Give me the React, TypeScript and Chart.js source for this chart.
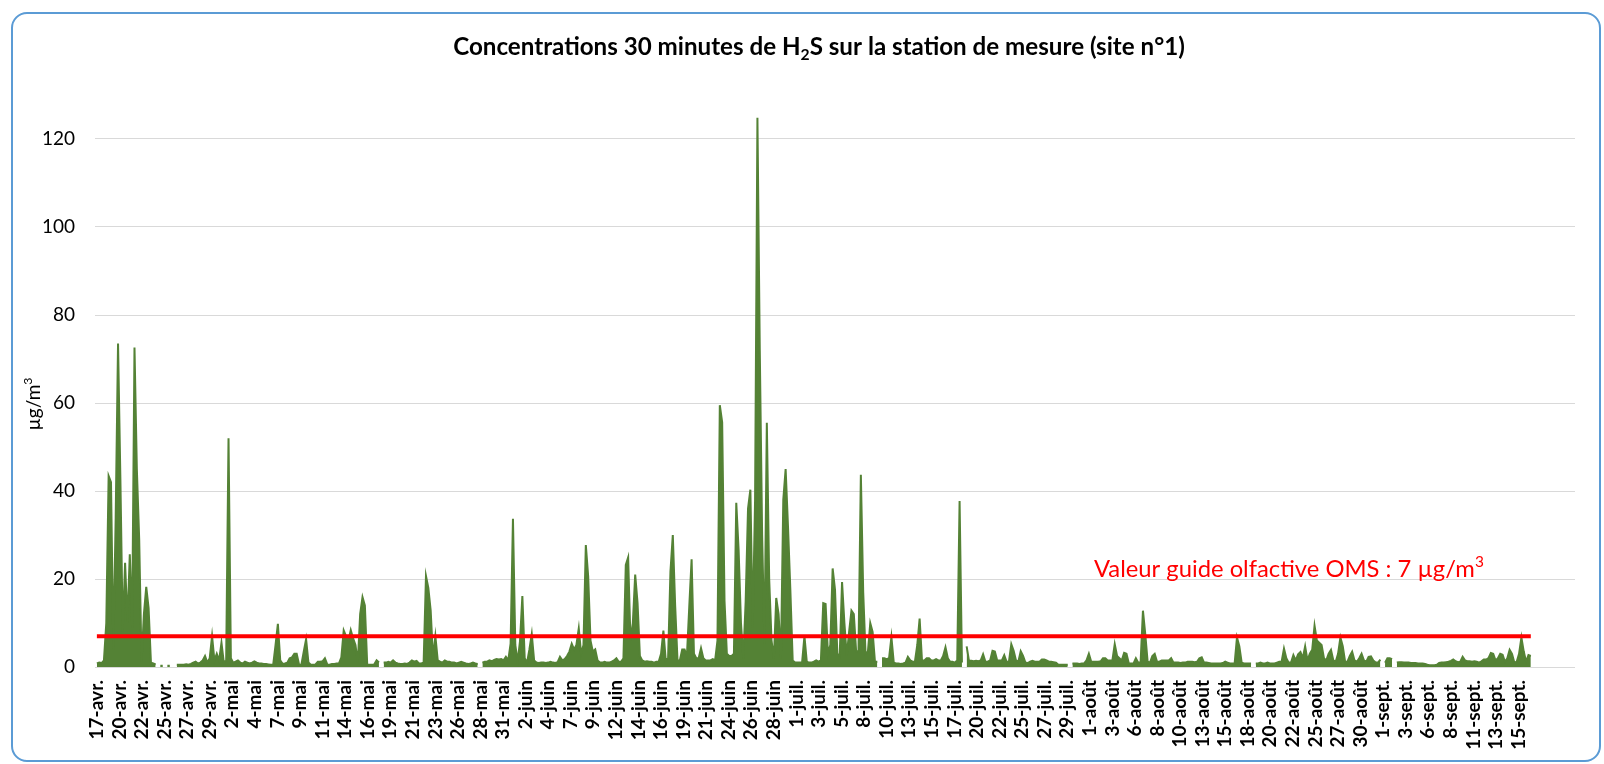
import React, { useEffect, useRef } from 'react';
import { Chart, registerables } from 'chart.js';

Chart.register(...registerables);

// ---- Data (30-min H2S concentrations, read at 6-hour resolution, µg/m³) ----
const samplesPerDay = 4;
const daysPerLabel = 2.4;
const threshold = 7;

const tickLabels = [
  '17-avr.', '20-avr.', '22-avr.', '25-avr.', '27-avr.', '29-avr.', '2-mai', '4-mai', '7-mai', '9-mai',
  '11-mai', '14-mai', '16-mai', '19-mai', '21-mai', '23-mai', '26-mai', '28-mai', '31-mai', '2-juin',
  '4-juin', '7-juin', '9-juin', '12-juin', '14-juin', '16-juin', '19-juin', '21-juin', '24-juin', '26-juin',
  '28-juin', '1-juil.', '3-juil.', '5-juil.', '8-juil.', '10-juil.', '13-juil.', '15-juil.', '17-juil.', '20-juil.',
  '22-juil.', '25-juil.', '27-juil.', '29-juil.', '1-août', '3-août', '6-août', '8-août', '10-août', '13-août',
  '15-août', '18-août', '20-août', '22-août', '25-août', '27-août', '30-août', '1-sept.', '3-sept.', '6-sept.',
  '8-sept.', '11-sept.', '13-sept.', '15-sept.',
];

const yTicks = [0, 20, 40, 60, 80, 100, 120];

const avril = [
  0.8, 1.0, 0.9, 1.5, 10, 43.4, 42, 4, 34, 73.5,
  42.7, 8, 23.7, 10, 25.6, 9, 72.6, 45, 29, 1.2,
  12, 18.2, 13.4, 1.0, 0.8, 0.6, null, 0.3, 0.3, null,
  0.3, 0.3, null, null, 0.5, 0.5, 0.5, 0.5, 0.6, 0.5,
  0.7, 1.0, 1.2, 0.8, 1.0, 1.5, 2.5, 1.0, 2.0, 7.0,
  1.5, 3.0, 1.5,
];

const mai = [
  5.5, 1.0, 1.5, 52, 2.0, 1.0, 1.2,
  1.5, 1.0, 0.8, 1.2, 1.0, 0.8, 1.0, 1.3, 1.0, 0.8,
  0.8, 0.7, 0.7, 0.6, 0.5, 0.5, 5, 9.8, 1.5, 0.7,
  0.8, 1.0, 2.0, 2.2, 3.0, 3.0, 0.6, 0.5, 3.5, 6.3,
  1.0, 0.5, 0.5, 0.6, 1.2, 1.2, 1.3, 2.0, 0.6, 0.5,
  0.7, 0.7, 0.8, 0.8, 2.2, 8.3, 7, 6, 8.4, 6.5,
  5, 1.0, 12, 15.9, 14, 0.6, 0.5, 0.5, 0.6, 1.5,
  1.0, null, 1.0, 1.0, 1.2, 1.0, 1.5, 1.0, 0.8, 0.7,
  0.7, 0.8, 0.7, 1.0, 1.5, 1.2, 1.4, 0.8, 0.8, 1.0,
  20.7, 18, 12.8, 2, 7, 1.5, 1.2, 1.0, 1.5, 1.2,
  1.2, 1.0, 1.0, 0.8, 1.0, 1.2, 1.0, 0.8, 0.7, 0.8,
  1.0, 0.8, 0.7, null, 1.0, 1.2, 1.2, 1.5, 1.3, 1.6,
  1.8, 1.7, 1.8, 1.5, 2.3, 1.5, 5.3,
];

const juin = [
  33.7, 5, 1.2,
  5.9, 16.1, 2.0, 1.0, 4.0, 7.5, 1.5, 1.0, 0.9, 1.0,
  1.0, 0.9, 1.0, 1.2, 1.0, 0.9, 1.1, 2.3, 1.5, 1.8,
  2.5, 3.5, 5.3, 4.0, 5.0, 8.8, 3.0, 5.0, 27.7, 20.6,
  6.0, 3.5, 4.0, 1.5, 1.0, 1.0, 1.2, 1.0, 1.0, 1.2,
  1.5, 2.0, 1.2, 1.2, 2.0, 23.2, 24.9, 6.0, 10, 21,
  14.6, 2.5, 1.5, 1.2, 1.3, 1.2, 1.2, 1.0, 1.2, 1.2,
  3.0, 8.3, 1.5, 2.0, 21.7, 30, 14, 1.5, 1.5, 4.0,
  4.0, 2.5, 13.7, 24.5, 3.0, 2.0, 2.0, 4.3, 2.0, 1.5,
  1.5, 1.5, 1.8, 1.5, 6, 59.5, 55.6, 15, 3.0, 2.5,
  2.5, 3.0, 37.3, 26.6, 10, 2.0, 15, 36, 40.3, 9,
  38, 124.8, 72, 30, 5, 55.5, 20, 6, 2, 15.7,
  12, 2, 38, 45, 32, 17.6, 1.5,
];

const juillet = [
  1.0, 1.0, 1.0,
  1.0, 7.0, 1.2, 1.0, 1.0, 1.2, 1.5, 1.2, 1.5, 14.5,
  14.3, 3.0, 5, 22.4, 17.6, 3.0, 2.5, 19.3, 10, 2.5,
  8, 12.8, 12, 3.5, 3.7, 43.7, 17, 3, 3.5, 10,
  8, 1.2, 1.2, null, 2.0, 2.0, 1.8, 2.0, 6.8, 1.0,
  0.8, 0.8, 0.7, 0.8, 1.0, 2.3, 1.5, 1.2, 1.2, 5,
  11, 1.5, 1.5, 2.0, 2.0, 1.5, 1.5, 1.8, 1.5, 1.5,
  2.5, 4.5, 2.0, 1.2, 1.2, 1.0, 1.5, 37.7, 1.0, null,
  4.7, 1.4, 1.4, 1.3, 1.4, 1.3, 1.5, 2.9, 1.2, 1.2,
  1.5, 3.7, 3.5, 1.5, 1.5, 1.5, 2.7, 1.2, 1.2, 5.2,
  3.7, 1.5, 1.2, 3.6, 2.5, 1.0, 0.9, 1.2, 1.4, 1.2,
  1.2, 1.2, 1.7, 1.7, 1.5, 1.2, 1.2, 1.1, 1.0, 0.5,
  0.5, 0.5, 0.5, 0.5, null, 0.8, 0.8, 0.8, 0.7, 0.8,
  0.8,
];

const aout = [
  1.5, 3.0, 1.2, 1.2, 1.2, 1.2, 1.3, 2.0, 2.0,
  1.5, 1.5, 1.5, 5.2, 2.5, 2.0, 1.5, 3.2, 3.0, 0.8,
  0.8, 0.8, 2.0, 1.0, 1.0, 12.8, 7.4, 1.2, 1.0, 2.5,
  3.0, 1.2, 1.2, 1.5, 1.5, 1.5, 1.5, 2.0, 1.0, 1.0,
  1.0, 0.9, 1.0, 1.0, 1.2, 1.2, 1.2, 1.1, 1.2, 2.0,
  2.2, 1.0, 1.0, 0.9, 0.8, 0.8, 0.8, 0.8, 0.8, 0.9,
  1.2, 1.0, 0.8, 0.8, 0.8, 6.7, 4.7, 1.0, 0.8, 0.8,
  0.8, 0.8, null, 0.8, 0.8, 1.0, 0.8, 0.8, 1.0, 0.8,
  0.8, 0.8, 1.0, 1.2, 1.2, 4.2, 2.0, 1.0, 1.0, 2.7,
  1.5, 2.9, 3.4, 2.0, 4.7, 1.5, 3.0, 3.9, 9.4, 6.0,
  5.5, 5.0, 2.0, 1.5, 3.0, 3.9, 1.5, 1.2, 3, 6.7,
  4.7, 1.2, 1.2, 2.5, 3.5, 1.5, 1.2, 2.0, 3.0, 1.5,
  1.2, 2.3, 2.4, 1.5, 1.0,
];

const septembre = [
  1.0, 1.7, null, 1.0, 2.0,
  2.0, 1.8, null, 1.0, 1.1, 1.1, 1.0, 1.0, 1.0, 0.9,
  0.9, 0.9, 0.8, 0.8, 0.8, 0.7, 0.5, 0.4, 0.4, 0.4,
  0.5, 0.9, 1.0, 1.0, 1.1, 1.2, 1.4, 1.7, 1.3, 1.1,
  1.2, 2.3, 1.5, 1.3, 1.3, 1.2, 1.3, 1.2, 1.0, 1.3,
  1.7, 1.7, 2.0, 3.2, 3.0, 1.5, 2.0, 3.0, 2.8, 1.2,
  2.0, 3.9, 3.0, 1.0, 1.2, 3.0, 6.7, 3.5, 1.2, 2.7, 2.5,
];

const series: (number | null)[] = [...avril, ...mai, ...juin, ...juillet, ...aout, ...septembre];

// ---- Styling ----
const GREEN = '#548235';
const RED = '#FF0000';
const FONT = 'Lato, "Open Sans", sans-serif';

type Piece = { text: string; mode?: 'sub' | 'sup' };

function richWidth(ctx: CanvasRenderingContext2D, pieces: Piece[], size: number, weight: string) {
  let total = 0;
  for (const p of pieces) {
    ctx.font = `${weight} ${p.mode ? size * 0.65 : size}px ${FONT}`;
    total += ctx.measureText(p.text).width;
  }
  return total;
}

function drawRich(
  ctx: CanvasRenderingContext2D,
  pieces: Piece[],
  x: number,
  y: number,
  size: number,
  weight: string,
  color: string,
  align: 'center' | 'left',
) {
  const total = richWidth(ctx, pieces, size, weight);
  let cx = align === 'center' ? x - total / 2 : x;
  ctx.fillStyle = color;
  ctx.textAlign = 'left';
  ctx.textBaseline = 'alphabetic';
  for (const p of pieces) {
    const s = p.mode ? size * 0.65 : size;
    ctx.font = `${weight} ${s}px ${FONT}`;
    const dy = p.mode === 'sub' ? size * 0.22 : p.mode === 'sup' ? -size * 0.4 : 0;
    ctx.fillText(p.text, cx, y + dy);
    cx += ctx.measureText(p.text).width;
  }
}

function fitSize(ctx: CanvasRenderingContext2D, pieces: Piece[], weight: string, target: number) {
  const w = richWidth(ctx, pieces, 20, weight);
  return (20 * target) / w;
}

const titlePieces: Piece[] = [
  { text: 'Concentrations 30 minutes de H' },
  { text: '2', mode: 'sub' },
  { text: 'S sur la station de mesure (site n°1)' },
];
const annotationPieces: Piece[] = [
  { text: 'Valeur guide olfactive OMS : 7 µg/m' },
  { text: '3', mode: 'sup' },
];
const yTitlePieces: Piece[] = [{ text: 'µg/m' }, { text: '3', mode: 'sup' }];

const textPlugin = {
  id: 'textPlugin',
  afterDraw(chart: any) {
    const ctx: CanvasRenderingContext2D = chart.ctx;
    ctx.save();
    const ts = fitSize(ctx, titlePieces, 'bold', 732);
    drawRich(ctx, titlePieces, 819, 55, ts, 'bold', '#000000', 'center');
    const as = fitSize(ctx, annotationPieces, 'normal', 390);
    drawRich(ctx, annotationPieces, 1094, 577, as, 'normal', RED, 'left');
    ctx.translate(40, 404);
    ctx.rotate(-Math.PI / 2);
    drawRich(ctx, yTitlePieces, 0, 0, 19, 'normal', '#000000', 'center');
    ctx.restore();
  },
};

export default function App() {
  const canvasRef = useRef<HTMLCanvasElement | null>(null);

  useEffect(() => {
    if (!canvasRef.current) return;
    const points = series.map((v, i) => ({ x: i / samplesPerDay, y: v }));
    const lastT = (series.length - 1) / samplesPerDay;
    const chart = new Chart(canvasRef.current, {
      type: 'line',
      data: {
        datasets: [
          {
            label: 'Valeur guide olfactive OMS',
            data: [
              { x: 0, y: threshold },
              { x: lastT, y: threshold },
            ],
            borderColor: RED,
            borderWidth: 4,
            pointRadius: 0,
            fill: false,
            order: 0,
          },
          {
            label: 'H2S',
            data: points as any,
            borderColor: GREEN,
            backgroundColor: GREEN,
            borderWidth: 2,
            pointRadius: 0,
            tension: 0,
            spanGaps: false,
            fill: 'origin',
            order: 1,
          },
        ],
      },
      options: {
        responsive: false,
        animation: false,
        events: [],
        layout: { padding: { left: 0, top: 95, right: 29, bottom: 0 } },
        plugins: {
          legend: { display: false },
          tooltip: { enabled: false },
          title: { display: false },
        },
        scales: {
          x: {
            type: 'linear',
            min: -0.2,
            max: 157.2,
            grid: { display: false, drawTicks: false },
            border: { display: false },
            afterBuildTicks: (scale: any) => {
              scale.ticks = tickLabels.map((_, k) => ({ value: k * daysPerLabel }));
            },
            afterFit: (scale: any) => {
              scale.height = 97;
            },
            ticks: {
              autoSkip: false,
              minRotation: 90,
              maxRotation: 90,
              padding: 13,
              color: '#000000',
              font: { family: FONT, size: 19, weight: 'bold' },
              callback: (_v: any, index: number) => tickLabels[index],
            },
          },
          y: {
            type: 'linear',
            min: 0,
            max: 130,
            grid: { color: '#D9D9D9', lineWidth: 1, drawTicks: false },
            border: { display: false },
            afterBuildTicks: (scale: any) => {
              scale.ticks = yTicks.map((v) => ({ value: v }));
            },
            afterFit: (scale: any) => {
              scale.width = 95;
            },
            ticks: {
              padding: 20,
              color: '#000000',
              font: { family: FONT, size: 19 },
            },
          },
        },
      },
      plugins: [textPlugin],
    });
    return () => chart.destroy();
  }, []);

  return (
    <div style={{ position: 'fixed', left: 0, top: 0, width: 1604, height: 764, background: '#ffffff' }}>
      <div
        style={{
          position: 'absolute',
          left: 11,
          top: 12,
          width: 1590,
          height: 750,
          border: '2.5px solid #5B9BD5',
          borderRadius: 16,
          boxSizing: 'border-box',
        }}
      />
      <canvas
        ref={canvasRef}
        width={1604}
        height={764}
        style={{ position: 'absolute', left: 0, top: 0, width: 1604, height: 764 }}
      />
    </div>
  );
}
